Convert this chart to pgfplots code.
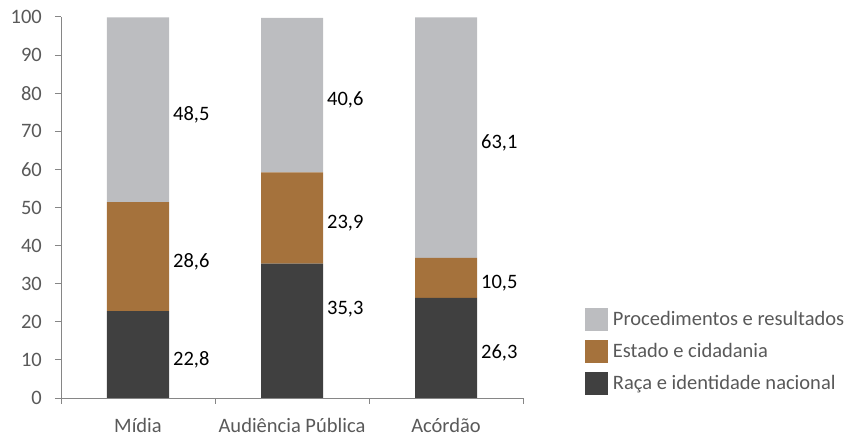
\documentclass[border=0pt]{standalone}
\usepackage{pgfplots}
\pgfplotsset{compat=1.18}
\usepackage{pgfplotstable}
\usepackage{fontspec}
\setmainfont{Carlito}
\definecolor{cproc}{RGB}{188,189,192}
\definecolor{cest}{RGB}{165,114,60}
\definecolor{craca}{RGB}{64,64,64}
\definecolor{ctxt}{RGB}{89,89,89}
\definecolor{caxis}{RGB}{134,134,134}
\newcommand{\cf}{\fontsize{20.5bp}{24bp}\selectfont}
% x: category; raca/estado/proc: values; o*: extra label lift (data units)
\pgfplotstableread{
x raca estado proc oraca oestado oproc
0 22.8 28.6 48.5 0 0 0
1 35.3 23.9 40.6 7.05 0 0
2 26.3 10.5 63.1 0 0 0
}\data
\begin{document}
\begin{tikzpicture}
\useasboundingbox (0,0) rectangle (854bp,436bp);
\begin{axis}[
  at={(61bp,38bp)}, anchor=south west,
  scale only axis, width=462bp, height=381bp,
  xmin=-0.5, xmax=2.5, ymin=0, ymax=100,
  ybar stacked, bar width=62bp,
  axis lines*=left,
  axis line style={caxis, line width=1bp},
  every tick/.style={caxis, line width=1bp},
  tick align=outside,
  major tick length=6bp, minor tick length=6bp,
  ytick={0,10,...,100},
  xtick={0,1,2}, xticklabels={Mídia, Audiência Pública, Acórdão},
  minor xtick={-0.5,0.5,1.5,2.5},
  every major x tick/.append style={draw=none},
  /pgf/number format/assume math mode=true,
  yticklabel style={text=ctxt, font=\cf, inner sep=0pt, xshift=-13bp},
  xticklabel style={text=ctxt, font=\cf, inner sep=0pt, yshift=-14bp},
  point meta=explicit,
  nodes near coords={\pgfmathprintnumber[use comma,fixed,precision=1,fixed zerofill]{\pgfplotspointmeta}},
  every node near coord/.append style={anchor=west, inner sep=0pt, xshift=35bp, yshift=\off*3.81bp-5bp, font=\cf, text=black},
  legend style={at={(rel axis cs:1.134,0.237)}, anchor=north west, draw=none, fill=none, inner sep=0pt, outer sep=0pt, font=\cf, text=ctxt, row sep=9bp, column sep=5bp, nodes={inner sep=0pt, text height=13.2bp, text depth=0bp}},
  legend cell align=left,
  legend image code/.code={\fill[#1] (0bp,-11.5bp) rectangle (23bp,11.5bp);},
  reverse legend,
]
\addplot[fill=craca, draw=none, visualization depends on={\thisrow{oraca}\as\off}] table[x=x, y=raca, meta=raca] {\data};
\addlegendentry{Raça e identidade nacional}
\addplot[fill=cest, draw=none, visualization depends on={\thisrow{oestado}\as\off}] table[x=x, y=estado, meta=estado] {\data};
\addlegendentry{Estado e cidadania}
\addplot[fill=cproc, draw=none, visualization depends on={\thisrow{oproc}\as\off}] table[x=x, y=proc, meta=proc] {\data};
\addlegendentry{Procedimentos e resultados}
\end{axis}
\end{tikzpicture}
\end{document}
